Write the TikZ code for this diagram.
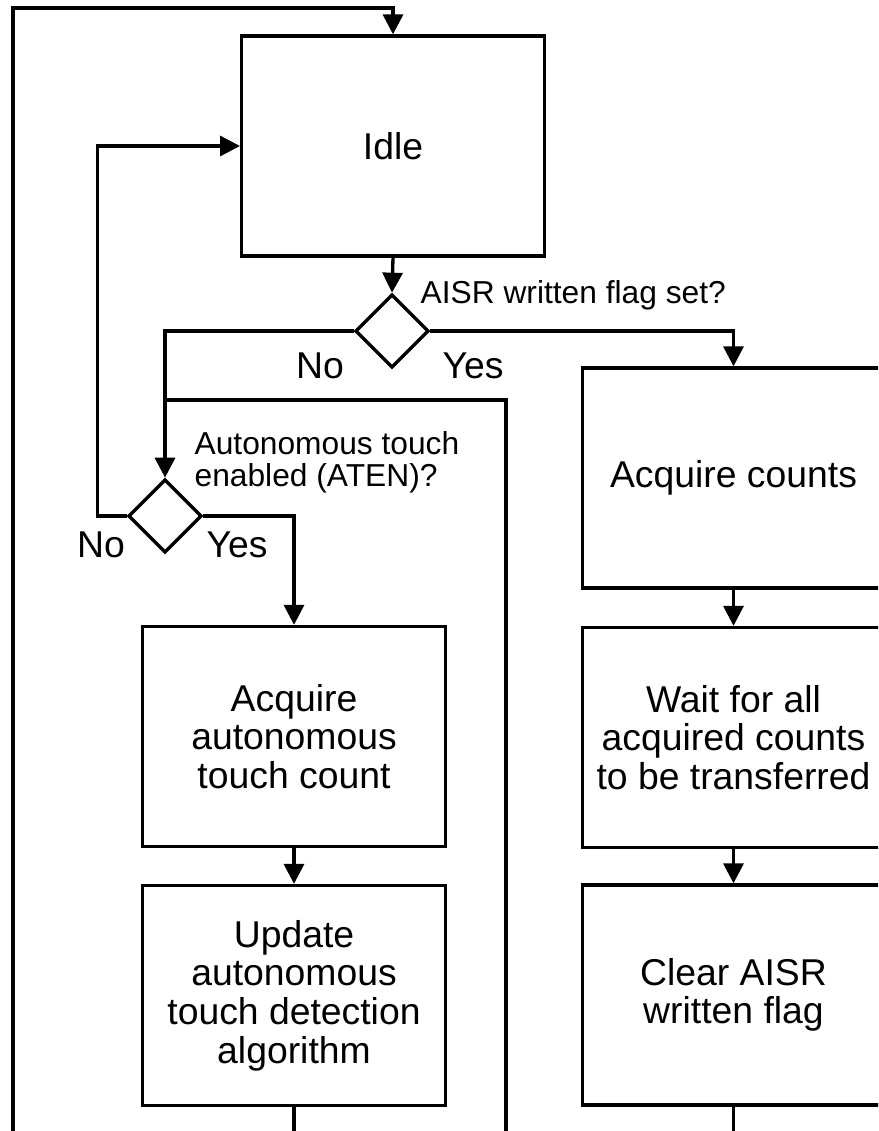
\documentclass[tikz,border=0pt]{standalone}
\usepackage{fontspec}
\setmainfont{Liberation Sans}
\usetikzlibrary{arrows.meta,shapes.geometric}

\begin{document}
\begin{tikzpicture}[x=0.75pt,y=-0.75pt,
    line width=2.5pt,
    >={Triangle[length=15pt,width=15pt]},
    stepbox/.style={rectangle, draw, inner sep=2pt, align=center,
      minimum width=227pt, minimum height=165pt,
      font=\fontsize{28}{29}\selectfont},
    decide/.style={diamond, draw, aspect=1, inner sep=0pt, minimum size=55pt},
    answer/.style={anchor=base, inner sep=0pt, font=\fontsize{28}{29}\selectfont},
    question/.style={anchor=base west, inner sep=0pt, align=left,
      font=\fontsize{23.8}{23.5}\selectfont}]

    \useasboundingbox (0,0) rectangle (878,1131);
    \clip (0,0) rectangle (878,1131);

    \node (idle) at (393, 146) [stepbox] {Idle};

    \node (aisr) at (392, 331) [decide] {};
    \node (aisr-q) at (419, 303) [question] {AISR written flag set?};
    \node (aisr-no) at (320, 378) [answer] {No};
    \node (aisr-yes) at (473, 378) [answer] {Yes};

    \node (aten) at (165, 516) [decide] {};
    \node (aten-q) at (193, 486) [question] {Autonomous touch\\enabled (ATEN)?};
    \node (aten-no) at (101, 557) [answer] {No};
    \node (aten-yes) at (237, 557) [answer] {Yes};

    \node (acq-auto) at (294, 736.5) [stepbox] {Acquire\\autonomous\\touch count};
    \node (update) at (294, 995.5) [stepbox] {Update\\autonomous\\touch detection\\algorithm};

    \node (acq-counts) at (733.5, 478) [stepbox] {Acquire counts};
    \node (wait) at (733.5, 737.5) [stepbox] {Wait for all\\acquired counts\\to be transferred};
    \node (clear) at (733.5, 995) [stepbox] {Clear AISR\\written flag};

    \coordinate (loop-in) at (13, 1140);
    \coordinate (loop-top) at (393, 8);
    \coordinate (ret-in) at (506, 1140);
    \coordinate (ret-join) at (165, 400);
    \coordinate (auto-out) at (294, 1140);
    \coordinate (clear-out) at (733.5, 1140);

    \draw[->] (loop-in) |- (loop-top) -- (idle.north);
    \draw[->] (idle.south) -- (aisr.north);

    \draw[->] (aisr.west) -| (aten.north);
    \draw[->] (aisr.east) -| (acq-counts.north);
    \draw (ret-in) |- (ret-join);

    \draw[->] (aten.west) -- ++(-29, 0) |- (idle.west);
    \draw[->] (aten.east) -| (acq-auto.north);

    \draw[->] (acq-auto) -- (update);
    \draw (update.south) -- (auto-out);

    \draw[->] (acq-counts) -- (wait);
    \draw[->] (wait) -- (clear);
    \draw (clear.south) -- (clear-out);

\end{tikzpicture}
\end{document}
